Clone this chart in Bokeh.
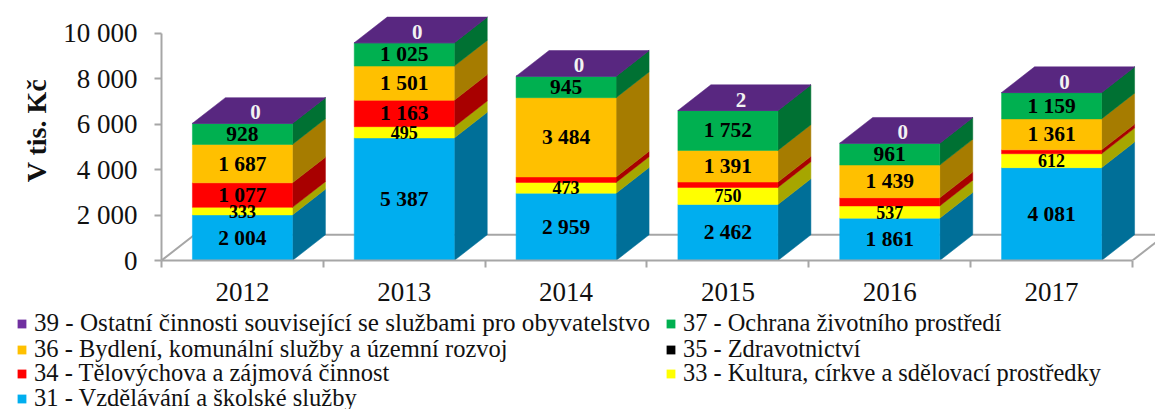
from bokeh.plotting import figure
from bokeh.models import Range1d, FixedTicker, Legend, LegendItem, ColumnDataSource, LinearAxis
from bokeh.core.properties import value
from bokeh.embed import file_html
from bokeh.resources import INLINE

years = ["2012", "2013", "2014", "2015", "2016", "2017"]
s31 = [2004, 5387, 2959, 2462, 1861, 4081]
s33 = [333, 495, 473, 750, 537, 612]
s34 = [1077, 1163, 240, 236, 359, 170]
s35 = [0, 0, 0, 0, 0, 0]
s36 = [1687, 1501, 3484, 1391, 1439, 1361]
s37 = [928, 1025, 945, 1752, 961, 1159]
s39 = [0, 0, 0, 2, 0, 0]
y_ticks = [0, 2000, 4000, 6000, 8000, 10000]

names = {
    "31": "31 - Vzdělávání a školské služby",
    "33": "33 - Kultura, církve a sdělovací prostředky",
    "34": "34 - Tělovýchova a zájmová činnost",
    "35": "35 - Zdravotnictví",
    "36": "36 - Bydlení, komunální služby a územní rozvoj",
    "37": "37 - Ochrana životního prostředí",
    "39": "39 - Ostatní činnosti související se službami pro obyvatelstvo",
}
series = [
    ("31", s31, "#00aeef", "#006f98"),
    ("33", s33, "#ffff00", "#a6a600"),
    ("34", s34, "#ff0000", "#a80000"),
    ("35", s35, "#000000", "#000000"),
    ("36", s36, "#ffc000", "#a67c00"),
    ("37", s37, "#00b050", "#007133"),
    ("39", s39, "#7030a0", "#582780"),
]
unlabelled = {("34", "2014"), ("34", "2015"), ("34", "2016"), ("34", "2017")}

FONT = "Liberation Serif"
GREY = "#a6a6a6"
CAT_PX = 161.83
VAL_PX = 0.02275
LEFT = 161
FRAME_W, FRAME_H = 994, 260
BAR_W = 100 / CAT_PX
DX = 33 / CAT_PX
DY = 25.7 / VAL_PX

p = figure(width=1155, height=310, output_backend="svg", toolbar_location=None,
           x_range=Range1d(0, FRAME_W / CAT_PX), y_range=Range1d(0, FRAME_H / VAL_PX),
           x_axis_type=None, y_axis_type=None,
           min_border_left=LEFT, min_border_right=0, min_border_top=0, min_border_bottom=50,
           outline_line_color=None)
p.grid.visible = False

# floor of the 3D box
n = len(years)
p.line([0, DX, n + DX], [0, DY, DY], line_color=GREY, line_width=2)
p.line([n, n + DX], [0, DY], line_color=GREY, line_width=2)

centers = [i + 0.5 for i in range(n)]
lefts = [c - BAR_W / 2 for c in centers]
rights = [c + BAR_W / 2 for c in centers]

base = [0] * n
small, large = dict(x=[], y=[], t=[]), dict(x=[], y=[], t=[])
for key, vals, col, side in series:
    tops = [b + v for b, v in zip(base, vals)]
    xs = [[r, r + DX, r + DX, r] for r in rights]
    ys = [[b, b + DY, t + DY, t] for b, t in zip(base, tops)]
    if key != "35":
        p.patches(xs, ys, fill_color=side, line_color=side, line_width=0.5)
    p.vbar(x=centers, bottom=base, top=tops, width=BAR_W, fill_color=col,
           line_color=col if key != "35" else None, line_width=0.5)
    if key not in ("35", "39"):
        for c, b, t, v, yr in zip(centers, base, tops, vals, years):
            if (key, yr) in unlabelled:
                continue
            lab = f"{v:,}".replace(",", " ")
            d = small if v < 800 and key == "33" else large
            d["x"].append(c); d["y"].append((b + t) / 2); d["t"].append(lab)
    base = tops

# top faces
top_col = series[-1][3]
p.patches([[l, l + DX, r + DX, r] for l, r in zip(lefts, rights)],
          [[t, t + DY, t + DY, t] for t in base],
          fill_color=top_col, line_color=top_col, line_width=0.5)

for d, size in ((large, "21.5px"), (small, "18px")):
    p.text(x="x", y="y", text="t", source=ColumnDataSource(d), text_font=value(FONT),
           text_font_style="bold", text_font_size=size, text_color="#000000",
           text_align="center", text_baseline="middle")
p.text(x=[c + 13 / CAT_PX for c in centers], y=[t + 480 for t in base],
       text=[str(v) for v in s39], text_font=value(FONT), text_font_style="bold",
       text_font_size="21px", text_color="#f2f2f2", text_align="center", text_baseline="middle")

yax = LinearAxis(ticker=FixedTicker(ticks=y_ticks), bounds=(0, 10000))
yax.major_label_overrides = {v: f"{v:,}".replace(",", " ") for v in y_ticks}
yax.axis_line_color = GREY; yax.axis_line_width = 2
yax.major_tick_line_color = GREY; yax.major_tick_line_width = 2
yax.major_tick_in = 0; yax.major_tick_out = 7
yax.minor_tick_in = 0; yax.minor_tick_out = 0
yax.major_label_text_font = FONT; yax.major_label_text_font_size = "27px"
yax.major_label_text_color = "#111111"; yax.major_label_standoff = 17
yax.axis_label = "V tis. Kč"; yax.axis_label_text_font = FONT
yax.axis_label_text_font_size = "28px"; yax.axis_label_text_font_style = "bold"
yax.axis_label_text_color = "#111111"; yax.axis_label_standoff = 8
p.add_layout(yax, "left")

xax = LinearAxis(ticker=FixedTicker(ticks=centers, minor_ticks=list(range(n + 1))), bounds=(0, n))
xax.major_label_overrides = dict(zip(centers, years))
xax.axis_line_color = GREY; xax.axis_line_width = 2
xax.major_tick_in = 0; xax.major_tick_out = 0
xax.minor_tick_line_color = GREY; xax.minor_tick_line_width = 2
xax.minor_tick_in = 0; xax.minor_tick_out = 7
xax.major_label_text_font = FONT; xax.major_label_text_font_size = "27px"
xax.major_label_text_color = "#111111"; xax.major_label_standoff = 15
p.add_layout(xax, "below")

# legend lives in its own strip under the chart
q = figure(width=1155, height=99, output_backend="svg", toolbar_location=None,
           x_range=Range1d(0, 1), y_range=Range1d(0, 1), x_axis_type=None, y_axis_type=None,
           min_border_left=0, min_border_right=0, min_border_top=0, min_border_bottom=0,
           outline_line_color=None)
q.grid.visible = False
colors = {key: col for key, _, col, _ in series}
placing = [("39", 16, 72, "25.1px"), ("37", 665, 72, "24.4px"), ("36", 16, 46, "24.5px"),
           ("35", 665, 46, "24.4px"), ("34", 16, 22, "24.5px"), ("33", 665, 22, "24.4px"),
           ("31", 16, -3, "24.5px")]
for k, lx, ly, fs in placing:
    r = q.vbar(x=[-1], bottom=[-2], top=[-1], width=0.1, fill_color=colors[k], line_color=None)
    q.add_layout(Legend(items=[LegendItem(label=names[k], renderers=[r])], location=(lx, ly),
                        glyph_width=11, glyph_height=11, label_standoff=7,
                        label_text_font=FONT, label_text_font_size=fs,
                        label_text_color="#111111", padding=0, margin=0,
                        border_line_color=None, background_fill_alpha=0), "center")

open("out.html", "w").write(file_html([p, q], INLINE))
